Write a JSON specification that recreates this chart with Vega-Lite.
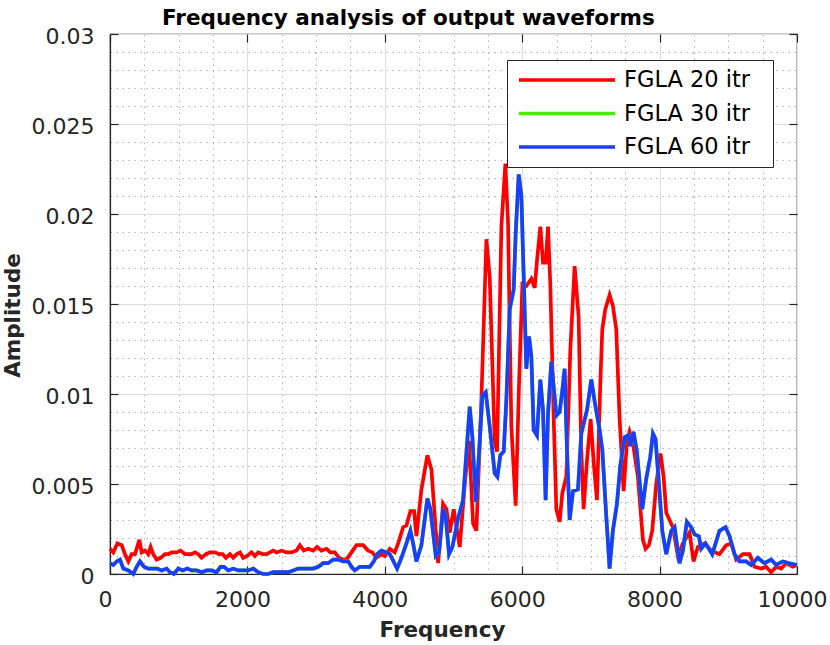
{
  "$schema": "https://vega.github.io/schema/vega-lite/v6.json",
  "autosize": "none",
  "width": 687,
  "height": 540,
  "padding": {"left": 110, "top": 34, "right": 33, "bottom": 71},
  "background": "white",
  "title": {
    "text": "Frequency analysis of output waveforms",
    "frame": "group",
    "anchor": "start",
    "dx": 52,
    "offset": -21,
    "baseline": "alphabetic",
    "font": "DejaVu Sans",
    "fontSize": 21.5,
    "fontWeight": "bold",
    "color": "#000000"
  },
  "data": {
    "values": [
      {"f": 0, "a": 0.0014, "s": "FGLA 20 itr"},
      {"f": 48, "a": 0.0012, "s": "FGLA 20 itr"},
      {"f": 107, "a": 0.0017, "s": "FGLA 20 itr"},
      {"f": 170, "a": 0.0016, "s": "FGLA 20 itr"},
      {"f": 218, "a": 0.0011, "s": "FGLA 20 itr"},
      {"f": 267, "a": 0.0007, "s": "FGLA 20 itr"},
      {"f": 315, "a": 0.0011, "s": "FGLA 20 itr"},
      {"f": 364, "a": 0.0011, "s": "FGLA 20 itr"},
      {"f": 427, "a": 0.0019, "s": "FGLA 20 itr"},
      {"f": 461, "a": 0.0012, "s": "FGLA 20 itr"},
      {"f": 509, "a": 0.0013, "s": "FGLA 20 itr"},
      {"f": 558, "a": 0.0011, "s": "FGLA 20 itr"},
      {"f": 591, "a": 0.0015, "s": "FGLA 20 itr"},
      {"f": 630, "a": 0.0011, "s": "FGLA 20 itr"},
      {"f": 679, "a": 0.0008, "s": "FGLA 20 itr"},
      {"f": 737, "a": 0.0009, "s": "FGLA 20 itr"},
      {"f": 800, "a": 0.0011, "s": "FGLA 20 itr"},
      {"f": 848, "a": 0.0011, "s": "FGLA 20 itr"},
      {"f": 897, "a": 0.0012, "s": "FGLA 20 itr"},
      {"f": 970, "a": 0.0012, "s": "FGLA 20 itr"},
      {"f": 1028, "a": 0.0013, "s": "FGLA 20 itr"},
      {"f": 1091, "a": 0.0011, "s": "FGLA 20 itr"},
      {"f": 1139, "a": 0.0011, "s": "FGLA 20 itr"},
      {"f": 1188, "a": 0.0011, "s": "FGLA 20 itr"},
      {"f": 1236, "a": 0.0012, "s": "FGLA 20 itr"},
      {"f": 1285, "a": 0.0011, "s": "FGLA 20 itr"},
      {"f": 1333, "a": 0.0009, "s": "FGLA 20 itr"},
      {"f": 1396, "a": 0.0011, "s": "FGLA 20 itr"},
      {"f": 1454, "a": 0.0012, "s": "FGLA 20 itr"},
      {"f": 1527, "a": 0.0012, "s": "FGLA 20 itr"},
      {"f": 1590, "a": 0.0011, "s": "FGLA 20 itr"},
      {"f": 1639, "a": 0.0011, "s": "FGLA 20 itr"},
      {"f": 1687, "a": 0.0009, "s": "FGLA 20 itr"},
      {"f": 1745, "a": 0.0011, "s": "FGLA 20 itr"},
      {"f": 1794, "a": 0.0009, "s": "FGLA 20 itr"},
      {"f": 1842, "a": 0.0011, "s": "FGLA 20 itr"},
      {"f": 1891, "a": 0.0012, "s": "FGLA 20 itr"},
      {"f": 1939, "a": 0.0009, "s": "FGLA 20 itr"},
      {"f": 1997, "a": 0.001, "s": "FGLA 20 itr"},
      {"f": 2060, "a": 0.0012, "s": "FGLA 20 itr"},
      {"f": 2109, "a": 0.001, "s": "FGLA 20 itr"},
      {"f": 2157, "a": 0.0012, "s": "FGLA 20 itr"},
      {"f": 2230, "a": 0.0011, "s": "FGLA 20 itr"},
      {"f": 2279, "a": 0.0011, "s": "FGLA 20 itr"},
      {"f": 2327, "a": 0.0012, "s": "FGLA 20 itr"},
      {"f": 2376, "a": 0.0013, "s": "FGLA 20 itr"},
      {"f": 2424, "a": 0.0012, "s": "FGLA 20 itr"},
      {"f": 2497, "a": 0.0013, "s": "FGLA 20 itr"},
      {"f": 2570, "a": 0.0012, "s": "FGLA 20 itr"},
      {"f": 2642, "a": 0.0012, "s": "FGLA 20 itr"},
      {"f": 2715, "a": 0.0013, "s": "FGLA 20 itr"},
      {"f": 2764, "a": 0.0016, "s": "FGLA 20 itr"},
      {"f": 2821, "a": 0.0013, "s": "FGLA 20 itr"},
      {"f": 2885, "a": 0.0014, "s": "FGLA 20 itr"},
      {"f": 2957, "a": 0.0013, "s": "FGLA 20 itr"},
      {"f": 3015, "a": 0.0015, "s": "FGLA 20 itr"},
      {"f": 3079, "a": 0.0013, "s": "FGLA 20 itr"},
      {"f": 3151, "a": 0.0014, "s": "FGLA 20 itr"},
      {"f": 3209, "a": 0.0012, "s": "FGLA 20 itr"},
      {"f": 3272, "a": 0.0012, "s": "FGLA 20 itr"},
      {"f": 3335, "a": 0.0009, "s": "FGLA 20 itr"},
      {"f": 3394, "a": 0.0008, "s": "FGLA 20 itr"},
      {"f": 3442, "a": 0.0008, "s": "FGLA 20 itr"},
      {"f": 3515, "a": 0.0012, "s": "FGLA 20 itr"},
      {"f": 3588, "a": 0.0016, "s": "FGLA 20 itr"},
      {"f": 3685, "a": 0.0016, "s": "FGLA 20 itr"},
      {"f": 3757, "a": 0.0013, "s": "FGLA 20 itr"},
      {"f": 3820, "a": 0.0012, "s": "FGLA 20 itr"},
      {"f": 3878, "a": 0.0009, "s": "FGLA 20 itr"},
      {"f": 3951, "a": 0.0011, "s": "FGLA 20 itr"},
      {"f": 4000, "a": 0.001, "s": "FGLA 20 itr"},
      {"f": 4073, "a": 0.0014, "s": "FGLA 20 itr"},
      {"f": 4145, "a": 0.0012, "s": "FGLA 20 itr"},
      {"f": 4194, "a": 0.0017, "s": "FGLA 20 itr"},
      {"f": 4267, "a": 0.0026, "s": "FGLA 20 itr"},
      {"f": 4315, "a": 0.0027, "s": "FGLA 20 itr"},
      {"f": 4373, "a": 0.0035, "s": "FGLA 20 itr"},
      {"f": 4427, "a": 0.0035, "s": "FGLA 20 itr"},
      {"f": 4460, "a": 0.0021, "s": "FGLA 20 itr"},
      {"f": 4533, "a": 0.0047, "s": "FGLA 20 itr"},
      {"f": 4620, "a": 0.0066, "s": "FGLA 20 itr"},
      {"f": 4679, "a": 0.0058, "s": "FGLA 20 itr"},
      {"f": 4727, "a": 0.0032, "s": "FGLA 20 itr"},
      {"f": 4776, "a": 0.0006, "s": "FGLA 20 itr"},
      {"f": 4848, "a": 0.0039, "s": "FGLA 20 itr"},
      {"f": 4897, "a": 0.0036, "s": "FGLA 20 itr"},
      {"f": 4945, "a": 0.0023, "s": "FGLA 20 itr"},
      {"f": 5003, "a": 0.0036, "s": "FGLA 20 itr"},
      {"f": 5091, "a": 0.0015, "s": "FGLA 20 itr"},
      {"f": 5164, "a": 0.005, "s": "FGLA 20 itr"},
      {"f": 5227, "a": 0.0074, "s": "FGLA 20 itr"},
      {"f": 5285, "a": 0.0028, "s": "FGLA 20 itr"},
      {"f": 5333, "a": 0.0024, "s": "FGLA 20 itr"},
      {"f": 5406, "a": 0.0097, "s": "FGLA 20 itr"},
      {"f": 5479, "a": 0.0186, "s": "FGLA 20 itr"},
      {"f": 5527, "a": 0.0165, "s": "FGLA 20 itr"},
      {"f": 5600, "a": 0.0073, "s": "FGLA 20 itr"},
      {"f": 5634, "a": 0.0068, "s": "FGLA 20 itr"},
      {"f": 5697, "a": 0.0193, "s": "FGLA 20 itr"},
      {"f": 5755, "a": 0.0228, "s": "FGLA 20 itr"},
      {"f": 5794, "a": 0.0195, "s": "FGLA 20 itr"},
      {"f": 5842, "a": 0.0082, "s": "FGLA 20 itr"},
      {"f": 5905, "a": 0.0038, "s": "FGLA 20 itr"},
      {"f": 5954, "a": 0.0106, "s": "FGLA 20 itr"},
      {"f": 6003, "a": 0.0161, "s": "FGLA 20 itr"},
      {"f": 6060, "a": 0.016, "s": "FGLA 20 itr"},
      {"f": 6133, "a": 0.0164, "s": "FGLA 20 itr"},
      {"f": 6182, "a": 0.0159, "s": "FGLA 20 itr"},
      {"f": 6215, "a": 0.0174, "s": "FGLA 20 itr"},
      {"f": 6264, "a": 0.0193, "s": "FGLA 20 itr"},
      {"f": 6303, "a": 0.0173, "s": "FGLA 20 itr"},
      {"f": 6341, "a": 0.0173, "s": "FGLA 20 itr"},
      {"f": 6376, "a": 0.0193, "s": "FGLA 20 itr"},
      {"f": 6409, "a": 0.0161, "s": "FGLA 20 itr"},
      {"f": 6458, "a": 0.0087, "s": "FGLA 20 itr"},
      {"f": 6497, "a": 0.0036, "s": "FGLA 20 itr"},
      {"f": 6545, "a": 0.0029, "s": "FGLA 20 itr"},
      {"f": 6584, "a": 0.0045, "s": "FGLA 20 itr"},
      {"f": 6642, "a": 0.0054, "s": "FGLA 20 itr"},
      {"f": 6700, "a": 0.0124, "s": "FGLA 20 itr"},
      {"f": 6763, "a": 0.0171, "s": "FGLA 20 itr"},
      {"f": 6821, "a": 0.0143, "s": "FGLA 20 itr"},
      {"f": 6860, "a": 0.0069, "s": "FGLA 20 itr"},
      {"f": 6894, "a": 0.0036, "s": "FGLA 20 itr"},
      {"f": 6943, "a": 0.0063, "s": "FGLA 20 itr"},
      {"f": 6996, "a": 0.0086, "s": "FGLA 20 itr"},
      {"f": 7045, "a": 0.006, "s": "FGLA 20 itr"},
      {"f": 7088, "a": 0.0041, "s": "FGLA 20 itr"},
      {"f": 7137, "a": 0.0106, "s": "FGLA 20 itr"},
      {"f": 7166, "a": 0.0136, "s": "FGLA 20 itr"},
      {"f": 7209, "a": 0.0147, "s": "FGLA 20 itr"},
      {"f": 7272, "a": 0.0155, "s": "FGLA 20 itr"},
      {"f": 7320, "a": 0.0149, "s": "FGLA 20 itr"},
      {"f": 7369, "a": 0.0136, "s": "FGLA 20 itr"},
      {"f": 7417, "a": 0.0087, "s": "FGLA 20 itr"},
      {"f": 7476, "a": 0.0046, "s": "FGLA 20 itr"},
      {"f": 7524, "a": 0.0073, "s": "FGLA 20 itr"},
      {"f": 7563, "a": 0.0079, "s": "FGLA 20 itr"},
      {"f": 7611, "a": 0.0073, "s": "FGLA 20 itr"},
      {"f": 7684, "a": 0.0054, "s": "FGLA 20 itr"},
      {"f": 7757, "a": 0.0019, "s": "FGLA 20 itr"},
      {"f": 7796, "a": 0.0014, "s": "FGLA 20 itr"},
      {"f": 7844, "a": 0.0016, "s": "FGLA 20 itr"},
      {"f": 7893, "a": 0.0024, "s": "FGLA 20 itr"},
      {"f": 7951, "a": 0.005, "s": "FGLA 20 itr"},
      {"f": 8014, "a": 0.0067, "s": "FGLA 20 itr"},
      {"f": 8058, "a": 0.0054, "s": "FGLA 20 itr"},
      {"f": 8097, "a": 0.0034, "s": "FGLA 20 itr"},
      {"f": 8193, "a": 0.0026, "s": "FGLA 20 itr"},
      {"f": 8266, "a": 0.001, "s": "FGLA 20 itr"},
      {"f": 8339, "a": 0.0017, "s": "FGLA 20 itr"},
      {"f": 8436, "a": 0.0023, "s": "FGLA 20 itr"},
      {"f": 8494, "a": 0.0007, "s": "FGLA 20 itr"},
      {"f": 8557, "a": 0.0015, "s": "FGLA 20 itr"},
      {"f": 8654, "a": 0.0017, "s": "FGLA 20 itr"},
      {"f": 8751, "a": 0.0013, "s": "FGLA 20 itr"},
      {"f": 8872, "a": 0.0011, "s": "FGLA 20 itr"},
      {"f": 8969, "a": 0.0016, "s": "FGLA 20 itr"},
      {"f": 9042, "a": 0.0017, "s": "FGLA 20 itr"},
      {"f": 9115, "a": 0.0008, "s": "FGLA 20 itr"},
      {"f": 9212, "a": 0.0011, "s": "FGLA 20 itr"},
      {"f": 9309, "a": 0.0011, "s": "FGLA 20 itr"},
      {"f": 9381, "a": 0.0004, "s": "FGLA 20 itr"},
      {"f": 9478, "a": 0.0003, "s": "FGLA 20 itr"},
      {"f": 9551, "a": 0.0004, "s": "FGLA 20 itr"},
      {"f": 9624, "a": 0.0001, "s": "FGLA 20 itr"},
      {"f": 9696, "a": 0.0004, "s": "FGLA 20 itr"},
      {"f": 9769, "a": 0.0003, "s": "FGLA 20 itr"},
      {"f": 9842, "a": 0.0006, "s": "FGLA 20 itr"},
      {"f": 9939, "a": 0.0004, "s": "FGLA 20 itr"},
      {"f": 10000, "a": 0.0005, "s": "FGLA 20 itr"},

      {"f": 0, "a": 0.0006, "s": "FGLA 30 itr"},
      {"f": 48, "a": 0.0005, "s": "FGLA 30 itr"},
      {"f": 97, "a": 0.0007, "s": "FGLA 30 itr"},
      {"f": 145, "a": 0.0008, "s": "FGLA 30 itr"},
      {"f": 194, "a": 0.0003, "s": "FGLA 30 itr"},
      {"f": 267, "a": 0.0002, "s": "FGLA 30 itr"},
      {"f": 339, "a": 0.0, "s": "FGLA 30 itr"},
      {"f": 388, "a": 0.0004, "s": "FGLA 30 itr"},
      {"f": 436, "a": 0.0007, "s": "FGLA 30 itr"},
      {"f": 494, "a": 0.0004, "s": "FGLA 30 itr"},
      {"f": 558, "a": 0.0003, "s": "FGLA 30 itr"},
      {"f": 620, "a": 0.0003, "s": "FGLA 30 itr"},
      {"f": 688, "a": 0.0003, "s": "FGLA 30 itr"},
      {"f": 751, "a": 0.0002, "s": "FGLA 30 itr"},
      {"f": 824, "a": 0.0003, "s": "FGLA 30 itr"},
      {"f": 873, "a": 0.0001, "s": "FGLA 30 itr"},
      {"f": 931, "a": 0.0, "s": "FGLA 30 itr"},
      {"f": 994, "a": 0.0003, "s": "FGLA 30 itr"},
      {"f": 1057, "a": 0.0002, "s": "FGLA 30 itr"},
      {"f": 1125, "a": 0.0003, "s": "FGLA 30 itr"},
      {"f": 1188, "a": 0.0002, "s": "FGLA 30 itr"},
      {"f": 1260, "a": 0.0002, "s": "FGLA 30 itr"},
      {"f": 1333, "a": 0.0001, "s": "FGLA 30 itr"},
      {"f": 1406, "a": 0.0002, "s": "FGLA 30 itr"},
      {"f": 1479, "a": 0.0002, "s": "FGLA 30 itr"},
      {"f": 1551, "a": 0.0001, "s": "FGLA 30 itr"},
      {"f": 1609, "a": 0.0004, "s": "FGLA 30 itr"},
      {"f": 1658, "a": 0.0004, "s": "FGLA 30 itr"},
      {"f": 1721, "a": 0.0002, "s": "FGLA 30 itr"},
      {"f": 1794, "a": 0.0003, "s": "FGLA 30 itr"},
      {"f": 1866, "a": 0.0002, "s": "FGLA 30 itr"},
      {"f": 1939, "a": 0.0002, "s": "FGLA 30 itr"},
      {"f": 2012, "a": 0.0002, "s": "FGLA 30 itr"},
      {"f": 2085, "a": 0.0003, "s": "FGLA 30 itr"},
      {"f": 2157, "a": 0.0001, "s": "FGLA 30 itr"},
      {"f": 2230, "a": 0.0, "s": "FGLA 30 itr"},
      {"f": 2303, "a": 0.0, "s": "FGLA 30 itr"},
      {"f": 2376, "a": 0.0001, "s": "FGLA 30 itr"},
      {"f": 2448, "a": 0.0001, "s": "FGLA 30 itr"},
      {"f": 2521, "a": 0.0001, "s": "FGLA 30 itr"},
      {"f": 2594, "a": 0.0001, "s": "FGLA 30 itr"},
      {"f": 2667, "a": 0.0002, "s": "FGLA 30 itr"},
      {"f": 2739, "a": 0.0003, "s": "FGLA 30 itr"},
      {"f": 2812, "a": 0.0003, "s": "FGLA 30 itr"},
      {"f": 2885, "a": 0.0003, "s": "FGLA 30 itr"},
      {"f": 2957, "a": 0.0003, "s": "FGLA 30 itr"},
      {"f": 3030, "a": 0.0004, "s": "FGLA 30 itr"},
      {"f": 3103, "a": 0.0006, "s": "FGLA 30 itr"},
      {"f": 3176, "a": 0.0006, "s": "FGLA 30 itr"},
      {"f": 3248, "a": 0.0008, "s": "FGLA 30 itr"},
      {"f": 3321, "a": 0.0008, "s": "FGLA 30 itr"},
      {"f": 3394, "a": 0.0007, "s": "FGLA 30 itr"},
      {"f": 3467, "a": 0.0007, "s": "FGLA 30 itr"},
      {"f": 3515, "a": 0.0004, "s": "FGLA 30 itr"},
      {"f": 3563, "a": 0.0002, "s": "FGLA 30 itr"},
      {"f": 3636, "a": 0.0004, "s": "FGLA 30 itr"},
      {"f": 3709, "a": 0.0004, "s": "FGLA 30 itr"},
      {"f": 3782, "a": 0.0004, "s": "FGLA 30 itr"},
      {"f": 3840, "a": 0.0007, "s": "FGLA 30 itr"},
      {"f": 3888, "a": 0.0011, "s": "FGLA 30 itr"},
      {"f": 3951, "a": 0.0013, "s": "FGLA 30 itr"},
      {"f": 4024, "a": 0.0012, "s": "FGLA 30 itr"},
      {"f": 4073, "a": 0.0011, "s": "FGLA 30 itr"},
      {"f": 4179, "a": 0.0003, "s": "FGLA 30 itr"},
      {"f": 4242, "a": 0.0009, "s": "FGLA 30 itr"},
      {"f": 4315, "a": 0.0017, "s": "FGLA 30 itr"},
      {"f": 4373, "a": 0.0024, "s": "FGLA 30 itr"},
      {"f": 4412, "a": 0.0017, "s": "FGLA 30 itr"},
      {"f": 4460, "a": 0.0007, "s": "FGLA 30 itr"},
      {"f": 4533, "a": 0.0016, "s": "FGLA 30 itr"},
      {"f": 4620, "a": 0.0042, "s": "FGLA 30 itr"},
      {"f": 4664, "a": 0.0036, "s": "FGLA 30 itr"},
      {"f": 4742, "a": 0.001, "s": "FGLA 30 itr"},
      {"f": 4790, "a": 0.0012, "s": "FGLA 30 itr"},
      {"f": 4848, "a": 0.0036, "s": "FGLA 30 itr"},
      {"f": 4887, "a": 0.0032, "s": "FGLA 30 itr"},
      {"f": 4935, "a": 0.0011, "s": "FGLA 30 itr"},
      {"f": 4984, "a": 0.0015, "s": "FGLA 30 itr"},
      {"f": 5067, "a": 0.0031, "s": "FGLA 30 itr"},
      {"f": 5139, "a": 0.0041, "s": "FGLA 30 itr"},
      {"f": 5236, "a": 0.0093, "s": "FGLA 30 itr"},
      {"f": 5275, "a": 0.0076, "s": "FGLA 30 itr"},
      {"f": 5324, "a": 0.004, "s": "FGLA 30 itr"},
      {"f": 5372, "a": 0.0067, "s": "FGLA 30 itr"},
      {"f": 5420, "a": 0.0099, "s": "FGLA 30 itr"},
      {"f": 5469, "a": 0.0101, "s": "FGLA 30 itr"},
      {"f": 5527, "a": 0.0082, "s": "FGLA 30 itr"},
      {"f": 5600, "a": 0.0056, "s": "FGLA 30 itr"},
      {"f": 5639, "a": 0.0054, "s": "FGLA 30 itr"},
      {"f": 5682, "a": 0.0066, "s": "FGLA 30 itr"},
      {"f": 5731, "a": 0.0068, "s": "FGLA 30 itr"},
      {"f": 5770, "a": 0.0097, "s": "FGLA 30 itr"},
      {"f": 5818, "a": 0.0147, "s": "FGLA 30 itr"},
      {"f": 5876, "a": 0.0158, "s": "FGLA 30 itr"},
      {"f": 5905, "a": 0.0189, "s": "FGLA 30 itr"},
      {"f": 5949, "a": 0.0222, "s": "FGLA 30 itr"},
      {"f": 5988, "a": 0.021, "s": "FGLA 30 itr"},
      {"f": 6022, "a": 0.0165, "s": "FGLA 30 itr"},
      {"f": 6060, "a": 0.0114, "s": "FGLA 30 itr"},
      {"f": 6099, "a": 0.0132, "s": "FGLA 30 itr"},
      {"f": 6133, "a": 0.0121, "s": "FGLA 30 itr"},
      {"f": 6167, "a": 0.008, "s": "FGLA 30 itr"},
      {"f": 6215, "a": 0.0077, "s": "FGLA 30 itr"},
      {"f": 6264, "a": 0.0108, "s": "FGLA 30 itr"},
      {"f": 6303, "a": 0.0091, "s": "FGLA 30 itr"},
      {"f": 6341, "a": 0.0041, "s": "FGLA 30 itr"},
      {"f": 6376, "a": 0.0089, "s": "FGLA 30 itr"},
      {"f": 6424, "a": 0.0118, "s": "FGLA 30 itr"},
      {"f": 6497, "a": 0.0088, "s": "FGLA 30 itr"},
      {"f": 6545, "a": 0.009, "s": "FGLA 30 itr"},
      {"f": 6584, "a": 0.0102, "s": "FGLA 30 itr"},
      {"f": 6618, "a": 0.0114, "s": "FGLA 30 itr"},
      {"f": 6652, "a": 0.0069, "s": "FGLA 30 itr"},
      {"f": 6691, "a": 0.003, "s": "FGLA 30 itr"},
      {"f": 6739, "a": 0.0046, "s": "FGLA 30 itr"},
      {"f": 6812, "a": 0.0047, "s": "FGLA 30 itr"},
      {"f": 6860, "a": 0.0078, "s": "FGLA 30 itr"},
      {"f": 6943, "a": 0.0091, "s": "FGLA 30 itr"},
      {"f": 7006, "a": 0.0108, "s": "FGLA 30 itr"},
      {"f": 7054, "a": 0.0096, "s": "FGLA 30 itr"},
      {"f": 7127, "a": 0.008, "s": "FGLA 30 itr"},
      {"f": 7166, "a": 0.0069, "s": "FGLA 30 itr"},
      {"f": 7224, "a": 0.0032, "s": "FGLA 30 itr"},
      {"f": 7272, "a": 0.0003, "s": "FGLA 30 itr"},
      {"f": 7320, "a": 0.0024, "s": "FGLA 30 itr"},
      {"f": 7379, "a": 0.0039, "s": "FGLA 30 itr"},
      {"f": 7427, "a": 0.006, "s": "FGLA 30 itr"},
      {"f": 7490, "a": 0.0076, "s": "FGLA 30 itr"},
      {"f": 7539, "a": 0.0077, "s": "FGLA 30 itr"},
      {"f": 7572, "a": 0.0071, "s": "FGLA 30 itr"},
      {"f": 7621, "a": 0.0079, "s": "FGLA 30 itr"},
      {"f": 7669, "a": 0.0068, "s": "FGLA 30 itr"},
      {"f": 7708, "a": 0.0052, "s": "FGLA 30 itr"},
      {"f": 7747, "a": 0.0036, "s": "FGLA 30 itr"},
      {"f": 7806, "a": 0.0053, "s": "FGLA 30 itr"},
      {"f": 7864, "a": 0.0065, "s": "FGLA 30 itr"},
      {"f": 7903, "a": 0.0078, "s": "FGLA 30 itr"},
      {"f": 7941, "a": 0.0075, "s": "FGLA 30 itr"},
      {"f": 7990, "a": 0.005, "s": "FGLA 30 itr"},
      {"f": 8039, "a": 0.0024, "s": "FGLA 30 itr"},
      {"f": 8097, "a": 0.0011, "s": "FGLA 30 itr"},
      {"f": 8169, "a": 0.0024, "s": "FGLA 30 itr"},
      {"f": 8218, "a": 0.0026, "s": "FGLA 30 itr"},
      {"f": 8290, "a": 0.0006, "s": "FGLA 30 itr"},
      {"f": 8339, "a": 0.0013, "s": "FGLA 30 itr"},
      {"f": 8397, "a": 0.0029, "s": "FGLA 30 itr"},
      {"f": 8460, "a": 0.0026, "s": "FGLA 30 itr"},
      {"f": 8509, "a": 0.0022, "s": "FGLA 30 itr"},
      {"f": 8572, "a": 0.0021, "s": "FGLA 30 itr"},
      {"f": 8605, "a": 0.0014, "s": "FGLA 30 itr"},
      {"f": 8669, "a": 0.0017, "s": "FGLA 30 itr"},
      {"f": 8766, "a": 0.0011, "s": "FGLA 30 itr"},
      {"f": 8872, "a": 0.0024, "s": "FGLA 30 itr"},
      {"f": 8960, "a": 0.0026, "s": "FGLA 30 itr"},
      {"f": 9018, "a": 0.0021, "s": "FGLA 30 itr"},
      {"f": 9091, "a": 0.0011, "s": "FGLA 30 itr"},
      {"f": 9163, "a": 0.0007, "s": "FGLA 30 itr"},
      {"f": 9260, "a": 0.0007, "s": "FGLA 30 itr"},
      {"f": 9333, "a": 0.0005, "s": "FGLA 30 itr"},
      {"f": 9430, "a": 0.0009, "s": "FGLA 30 itr"},
      {"f": 9527, "a": 0.0006, "s": "FGLA 30 itr"},
      {"f": 9624, "a": 0.0008, "s": "FGLA 30 itr"},
      {"f": 9696, "a": 0.0005, "s": "FGLA 30 itr"},
      {"f": 9793, "a": 0.0007, "s": "FGLA 30 itr"},
      {"f": 9890, "a": 0.0006, "s": "FGLA 30 itr"},
      {"f": 10000, "a": 0.0005, "s": "FGLA 30 itr"},

      {"f": 0, "a": 0.0006, "s": "FGLA 60 itr"},
      {"f": 48, "a": 0.0005, "s": "FGLA 60 itr"},
      {"f": 97, "a": 0.0007, "s": "FGLA 60 itr"},
      {"f": 145, "a": 0.0008, "s": "FGLA 60 itr"},
      {"f": 194, "a": 0.0003, "s": "FGLA 60 itr"},
      {"f": 267, "a": 0.0002, "s": "FGLA 60 itr"},
      {"f": 339, "a": 0.0, "s": "FGLA 60 itr"},
      {"f": 388, "a": 0.0004, "s": "FGLA 60 itr"},
      {"f": 436, "a": 0.0007, "s": "FGLA 60 itr"},
      {"f": 494, "a": 0.0004, "s": "FGLA 60 itr"},
      {"f": 558, "a": 0.0003, "s": "FGLA 60 itr"},
      {"f": 620, "a": 0.0003, "s": "FGLA 60 itr"},
      {"f": 688, "a": 0.0003, "s": "FGLA 60 itr"},
      {"f": 751, "a": 0.0002, "s": "FGLA 60 itr"},
      {"f": 824, "a": 0.0003, "s": "FGLA 60 itr"},
      {"f": 873, "a": 0.0001, "s": "FGLA 60 itr"},
      {"f": 931, "a": 0.0, "s": "FGLA 60 itr"},
      {"f": 994, "a": 0.0003, "s": "FGLA 60 itr"},
      {"f": 1057, "a": 0.0002, "s": "FGLA 60 itr"},
      {"f": 1125, "a": 0.0003, "s": "FGLA 60 itr"},
      {"f": 1188, "a": 0.0002, "s": "FGLA 60 itr"},
      {"f": 1260, "a": 0.0002, "s": "FGLA 60 itr"},
      {"f": 1333, "a": 0.0001, "s": "FGLA 60 itr"},
      {"f": 1406, "a": 0.0002, "s": "FGLA 60 itr"},
      {"f": 1479, "a": 0.0002, "s": "FGLA 60 itr"},
      {"f": 1551, "a": 0.0001, "s": "FGLA 60 itr"},
      {"f": 1609, "a": 0.0004, "s": "FGLA 60 itr"},
      {"f": 1658, "a": 0.0004, "s": "FGLA 60 itr"},
      {"f": 1721, "a": 0.0002, "s": "FGLA 60 itr"},
      {"f": 1794, "a": 0.0003, "s": "FGLA 60 itr"},
      {"f": 1866, "a": 0.0002, "s": "FGLA 60 itr"},
      {"f": 1939, "a": 0.0002, "s": "FGLA 60 itr"},
      {"f": 2012, "a": 0.0002, "s": "FGLA 60 itr"},
      {"f": 2085, "a": 0.0003, "s": "FGLA 60 itr"},
      {"f": 2157, "a": 0.0001, "s": "FGLA 60 itr"},
      {"f": 2230, "a": 0.0, "s": "FGLA 60 itr"},
      {"f": 2303, "a": 0.0, "s": "FGLA 60 itr"},
      {"f": 2376, "a": 0.0001, "s": "FGLA 60 itr"},
      {"f": 2448, "a": 0.0001, "s": "FGLA 60 itr"},
      {"f": 2521, "a": 0.0001, "s": "FGLA 60 itr"},
      {"f": 2594, "a": 0.0001, "s": "FGLA 60 itr"},
      {"f": 2667, "a": 0.0002, "s": "FGLA 60 itr"},
      {"f": 2739, "a": 0.0003, "s": "FGLA 60 itr"},
      {"f": 2812, "a": 0.0003, "s": "FGLA 60 itr"},
      {"f": 2885, "a": 0.0003, "s": "FGLA 60 itr"},
      {"f": 2957, "a": 0.0003, "s": "FGLA 60 itr"},
      {"f": 3030, "a": 0.0004, "s": "FGLA 60 itr"},
      {"f": 3103, "a": 0.0006, "s": "FGLA 60 itr"},
      {"f": 3176, "a": 0.0006, "s": "FGLA 60 itr"},
      {"f": 3248, "a": 0.0008, "s": "FGLA 60 itr"},
      {"f": 3321, "a": 0.0008, "s": "FGLA 60 itr"},
      {"f": 3394, "a": 0.0007, "s": "FGLA 60 itr"},
      {"f": 3467, "a": 0.0007, "s": "FGLA 60 itr"},
      {"f": 3515, "a": 0.0004, "s": "FGLA 60 itr"},
      {"f": 3563, "a": 0.0002, "s": "FGLA 60 itr"},
      {"f": 3636, "a": 0.0004, "s": "FGLA 60 itr"},
      {"f": 3709, "a": 0.0004, "s": "FGLA 60 itr"},
      {"f": 3782, "a": 0.0004, "s": "FGLA 60 itr"},
      {"f": 3840, "a": 0.0007, "s": "FGLA 60 itr"},
      {"f": 3888, "a": 0.0011, "s": "FGLA 60 itr"},
      {"f": 3951, "a": 0.0013, "s": "FGLA 60 itr"},
      {"f": 4024, "a": 0.0012, "s": "FGLA 60 itr"},
      {"f": 4073, "a": 0.0011, "s": "FGLA 60 itr"},
      {"f": 4179, "a": 0.0003, "s": "FGLA 60 itr"},
      {"f": 4242, "a": 0.0009, "s": "FGLA 60 itr"},
      {"f": 4315, "a": 0.0017, "s": "FGLA 60 itr"},
      {"f": 4373, "a": 0.0024, "s": "FGLA 60 itr"},
      {"f": 4412, "a": 0.0017, "s": "FGLA 60 itr"},
      {"f": 4460, "a": 0.0007, "s": "FGLA 60 itr"},
      {"f": 4533, "a": 0.0016, "s": "FGLA 60 itr"},
      {"f": 4620, "a": 0.0042, "s": "FGLA 60 itr"},
      {"f": 4664, "a": 0.0036, "s": "FGLA 60 itr"},
      {"f": 4742, "a": 0.001, "s": "FGLA 60 itr"},
      {"f": 4790, "a": 0.0012, "s": "FGLA 60 itr"},
      {"f": 4848, "a": 0.0036, "s": "FGLA 60 itr"},
      {"f": 4887, "a": 0.0032, "s": "FGLA 60 itr"},
      {"f": 4935, "a": 0.0011, "s": "FGLA 60 itr"},
      {"f": 4984, "a": 0.0015, "s": "FGLA 60 itr"},
      {"f": 5067, "a": 0.0031, "s": "FGLA 60 itr"},
      {"f": 5139, "a": 0.0041, "s": "FGLA 60 itr"},
      {"f": 5236, "a": 0.0093, "s": "FGLA 60 itr"},
      {"f": 5275, "a": 0.0076, "s": "FGLA 60 itr"},
      {"f": 5324, "a": 0.004, "s": "FGLA 60 itr"},
      {"f": 5372, "a": 0.0067, "s": "FGLA 60 itr"},
      {"f": 5420, "a": 0.0099, "s": "FGLA 60 itr"},
      {"f": 5469, "a": 0.0101, "s": "FGLA 60 itr"},
      {"f": 5527, "a": 0.0082, "s": "FGLA 60 itr"},
      {"f": 5600, "a": 0.0056, "s": "FGLA 60 itr"},
      {"f": 5639, "a": 0.0054, "s": "FGLA 60 itr"},
      {"f": 5682, "a": 0.0066, "s": "FGLA 60 itr"},
      {"f": 5731, "a": 0.0068, "s": "FGLA 60 itr"},
      {"f": 5770, "a": 0.0097, "s": "FGLA 60 itr"},
      {"f": 5818, "a": 0.0147, "s": "FGLA 60 itr"},
      {"f": 5876, "a": 0.0158, "s": "FGLA 60 itr"},
      {"f": 5905, "a": 0.0189, "s": "FGLA 60 itr"},
      {"f": 5949, "a": 0.0222, "s": "FGLA 60 itr"},
      {"f": 5988, "a": 0.021, "s": "FGLA 60 itr"},
      {"f": 6022, "a": 0.0165, "s": "FGLA 60 itr"},
      {"f": 6060, "a": 0.0114, "s": "FGLA 60 itr"},
      {"f": 6099, "a": 0.0132, "s": "FGLA 60 itr"},
      {"f": 6133, "a": 0.0121, "s": "FGLA 60 itr"},
      {"f": 6167, "a": 0.008, "s": "FGLA 60 itr"},
      {"f": 6215, "a": 0.0077, "s": "FGLA 60 itr"},
      {"f": 6264, "a": 0.0108, "s": "FGLA 60 itr"},
      {"f": 6303, "a": 0.0091, "s": "FGLA 60 itr"},
      {"f": 6341, "a": 0.0041, "s": "FGLA 60 itr"},
      {"f": 6376, "a": 0.0089, "s": "FGLA 60 itr"},
      {"f": 6424, "a": 0.0118, "s": "FGLA 60 itr"},
      {"f": 6497, "a": 0.0088, "s": "FGLA 60 itr"},
      {"f": 6545, "a": 0.009, "s": "FGLA 60 itr"},
      {"f": 6584, "a": 0.0102, "s": "FGLA 60 itr"},
      {"f": 6618, "a": 0.0114, "s": "FGLA 60 itr"},
      {"f": 6652, "a": 0.0069, "s": "FGLA 60 itr"},
      {"f": 6691, "a": 0.003, "s": "FGLA 60 itr"},
      {"f": 6739, "a": 0.0046, "s": "FGLA 60 itr"},
      {"f": 6812, "a": 0.0047, "s": "FGLA 60 itr"},
      {"f": 6860, "a": 0.0078, "s": "FGLA 60 itr"},
      {"f": 6943, "a": 0.0091, "s": "FGLA 60 itr"},
      {"f": 7006, "a": 0.0108, "s": "FGLA 60 itr"},
      {"f": 7054, "a": 0.0096, "s": "FGLA 60 itr"},
      {"f": 7127, "a": 0.008, "s": "FGLA 60 itr"},
      {"f": 7166, "a": 0.0069, "s": "FGLA 60 itr"},
      {"f": 7224, "a": 0.0032, "s": "FGLA 60 itr"},
      {"f": 7272, "a": 0.0003, "s": "FGLA 60 itr"},
      {"f": 7320, "a": 0.0024, "s": "FGLA 60 itr"},
      {"f": 7379, "a": 0.0039, "s": "FGLA 60 itr"},
      {"f": 7427, "a": 0.006, "s": "FGLA 60 itr"},
      {"f": 7490, "a": 0.0076, "s": "FGLA 60 itr"},
      {"f": 7539, "a": 0.0077, "s": "FGLA 60 itr"},
      {"f": 7572, "a": 0.0071, "s": "FGLA 60 itr"},
      {"f": 7621, "a": 0.0079, "s": "FGLA 60 itr"},
      {"f": 7669, "a": 0.0068, "s": "FGLA 60 itr"},
      {"f": 7708, "a": 0.0052, "s": "FGLA 60 itr"},
      {"f": 7747, "a": 0.0036, "s": "FGLA 60 itr"},
      {"f": 7806, "a": 0.0053, "s": "FGLA 60 itr"},
      {"f": 7864, "a": 0.0065, "s": "FGLA 60 itr"},
      {"f": 7903, "a": 0.0078, "s": "FGLA 60 itr"},
      {"f": 7941, "a": 0.0075, "s": "FGLA 60 itr"},
      {"f": 7990, "a": 0.005, "s": "FGLA 60 itr"},
      {"f": 8039, "a": 0.0024, "s": "FGLA 60 itr"},
      {"f": 8097, "a": 0.0011, "s": "FGLA 60 itr"},
      {"f": 8169, "a": 0.0024, "s": "FGLA 60 itr"},
      {"f": 8218, "a": 0.0026, "s": "FGLA 60 itr"},
      {"f": 8290, "a": 0.0006, "s": "FGLA 60 itr"},
      {"f": 8339, "a": 0.0013, "s": "FGLA 60 itr"},
      {"f": 8397, "a": 0.0029, "s": "FGLA 60 itr"},
      {"f": 8460, "a": 0.0026, "s": "FGLA 60 itr"},
      {"f": 8509, "a": 0.0022, "s": "FGLA 60 itr"},
      {"f": 8572, "a": 0.0021, "s": "FGLA 60 itr"},
      {"f": 8605, "a": 0.0014, "s": "FGLA 60 itr"},
      {"f": 8669, "a": 0.0017, "s": "FGLA 60 itr"},
      {"f": 8766, "a": 0.0011, "s": "FGLA 60 itr"},
      {"f": 8872, "a": 0.0024, "s": "FGLA 60 itr"},
      {"f": 8960, "a": 0.0026, "s": "FGLA 60 itr"},
      {"f": 9018, "a": 0.0021, "s": "FGLA 60 itr"},
      {"f": 9091, "a": 0.0011, "s": "FGLA 60 itr"},
      {"f": 9163, "a": 0.0007, "s": "FGLA 60 itr"},
      {"f": 9260, "a": 0.0007, "s": "FGLA 60 itr"},
      {"f": 9333, "a": 0.0005, "s": "FGLA 60 itr"},
      {"f": 9430, "a": 0.0009, "s": "FGLA 60 itr"},
      {"f": 9527, "a": 0.0006, "s": "FGLA 60 itr"},
      {"f": 9624, "a": 0.0008, "s": "FGLA 60 itr"},
      {"f": 9696, "a": 0.0005, "s": "FGLA 60 itr"},
      {"f": 9793, "a": 0.0007, "s": "FGLA 60 itr"},
      {"f": 9890, "a": 0.0006, "s": "FGLA 60 itr"},
      {"f": 10000, "a": 0.0005, "s": "FGLA 60 itr"}
    ]
  },
  "layer": [
    {
      "mark": {"type": "line", "opacity": 0},
      "encoding": {
        "x": {
          "field": "f", "type": "quantitative",
          "scale": {"domain": [0, 10000], "nice": false},
          "axis": {
            "orient": "bottom",
            "values": [500, 1000, 1500, 2500, 3000, 3500, 4500, 5000, 5500, 6500, 7000, 7500, 8500, 9000, 9500],
            "labels": false, "ticks": false, "domain": false, "title": null,
            "grid": true, "gridColor": "#b4b4b4", "gridWidth": 1, "gridDash": [1.5, 4.5]
          }
        },
        "y": {
          "field": "a", "type": "quantitative",
          "scale": {"domain": [0, 0.03], "nice": false},
          "axis": {
            "orient": "left",
            "values": [0.001, 0.002, 0.003, 0.004, 0.006, 0.007, 0.008, 0.009, 0.011, 0.012, 0.013, 0.014, 0.016, 0.017, 0.018, 0.019, 0.021, 0.022, 0.023, 0.024, 0.026, 0.027, 0.028, 0.029],
            "labels": false, "ticks": false, "domain": false, "title": null,
            "grid": true, "gridColor": "#b4b4b4", "gridWidth": 1, "gridDash": [1.5, 4.5]
          }
        }
      }
    },
    {
      "mark": {"type": "line", "strokeWidth": 3.7},
      "encoding": {
        "x": {
          "field": "f", "type": "quantitative",
          "axis": {
            "orient": "bottom",
            "values": [0, 2000, 4000, 6000, 8000, 10000],
            "format": "d",
            "ticks": false,
            "labelPadding": 32, "labelBaseline": "alphabetic", "labelOffset": -5,
            "labelFlush": false, "labelOverlap": false, "labelBound": false,
            "domainColor": "#262626", "domainWidth": 1.2,
            "grid": true, "gridColor": "#dedede", "gridWidth": 1,
            "title": "Frequency",
            "titleX": 332, "titleY": 62, "titleAlign": "center", "titleBaseline": "alphabetic"
          }
        },
        "y": {
          "field": "a", "type": "quantitative",
          "axis": {
            "orient": "left",
            "values": [0, 0.005, 0.01, 0.015, 0.02, 0.025, 0.03],
            "format": "~g",
            "ticks": false,
            "labelPadding": 16, "labelOffset": 2,
            "labelFlush": false, "labelOverlap": false, "labelBound": false,
            "domainColor": "#262626", "domainWidth": 1.2,
            "grid": true, "gridColor": "#dedede", "gridWidth": 1,
            "title": "Amplitude",
            "titleX": -86, "titleY": 281, "titleAngle": 270, "titleAlign": "center", "titleBaseline": "bottom"
          }
        },
        "color": {
          "field": "s", "type": "nominal",
          "scale": {
            "domain": ["FGLA 20 itr", "FGLA 30 itr", "FGLA 60 itr"],
            "range": ["#ff0000", "#44ee00", "#1a3dff"]
          },
          "legend": {
            "title": null,
            "orient": "none",
            "legendX": 397,
            "legendY": 26,
            "padding": 6,
            "fillColor": "white",
            "strokeColor": "#262626",
            "symbolType": "stroke",
            "symbolSize": 9216,
            "symbolStrokeWidth": 3.7,
            "symbolOffset": 4,
            "clipHeight": 28,
            "rowPadding": 5.5,
            "labelOffset": 7,
            "labelFontSize": 22.5,
            "labelFont": "DejaVu Sans",
            "labelColor": "#000000",
            "labelExpr": "datum.label + '\u2800'"
          }
        }
      }
    },
    {
      "mark": {"type": "line", "opacity": 0},
      "encoding": {
        "x": {
          "field": "f", "type": "quantitative",
          "axis": {
            "orient": "bottom", "offset": -8,
            "values": [0, 2000, 4000, 6000, 8000, 10000],
            "labels": false, "domain": false, "grid": false, "title": null,
            "ticks": true, "tickSize": 8, "tickColor": "#262626", "tickWidth": 1.2
          }
        },
        "y": {
          "field": "a", "type": "quantitative",
          "axis": {
            "orient": "left", "offset": -8,
            "values": [0, 0.005, 0.01, 0.015, 0.02, 0.025, 0.03],
            "labels": false, "domain": false, "grid": false, "title": null,
            "ticks": true, "tickSize": 8, "tickColor": "#262626", "tickWidth": 1.2
          }
        }
      }
    },
    {
      "mark": {"type": "line", "opacity": 0},
      "encoding": {
        "x": {
          "field": "f", "type": "quantitative",
          "axis": {
            "orient": "top", "offset": -8,
            "values": [0, 2000, 4000, 6000, 8000, 10000],
            "labels": false, "domain": false, "grid": false, "title": null,
            "ticks": true, "tickSize": 8, "tickColor": "#262626", "tickWidth": 1.2
          }
        },
        "y": {
          "field": "a", "type": "quantitative",
          "axis": {
            "orient": "right", "offset": -8,
            "values": [0, 0.005, 0.01, 0.015, 0.02, 0.025, 0.03],
            "labels": false, "domain": false, "grid": false, "title": null,
            "ticks": true, "tickSize": 8, "tickColor": "#262626", "tickWidth": 1.2
          }
        }
      }
    }
  ],
  "resolve": {"axis": {"x": "independent", "y": "independent"}},
  "config": {
    "view": {"stroke": "#262626", "strokeWidth": 1.2},
    "axis": {
      "labelFont": "DejaVu Sans",
      "labelFontSize": 22,
      "labelColor": "#262626",
      "titleFont": "DejaVu Sans",
      "titleFontSize": 21.5,
      "titleFontWeight": "bold",
      "titleColor": "#262626"
    }
  }
}
